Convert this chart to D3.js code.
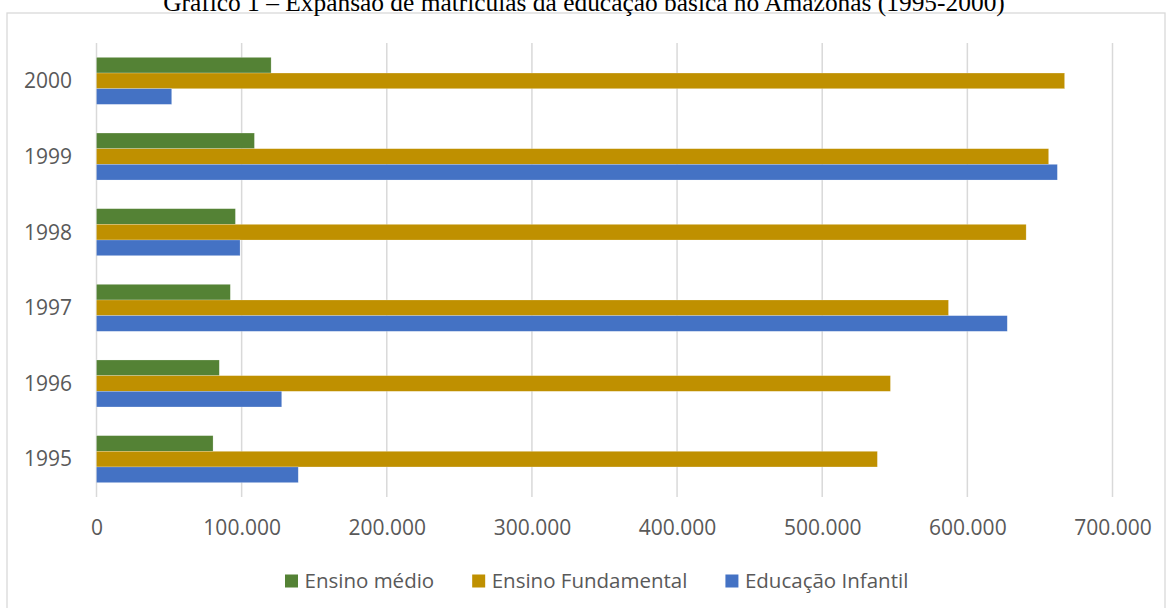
<!DOCTYPE html>
<html><head><meta charset="utf-8">
<script src="https://cdn.jsdelivr.net/npm/d3@7"></script>
<style>body{margin:0;background:#fff;} svg{display:block;}</style>
</head><body>
<svg id="c" width="1168" height="608"></svg>
<script>
const years = ["1995","1996","1997","1998","1999","2000"];
const seriesNames = ["Ensino médio","Ensino Fundamental","Educação Infantil"];
const ensinoMedio = [80300, 84600, 92200, 95700, 108800, 120300];
const ensinoFundamental = [538000, 547000, 587000, 640500, 656000, 667000];
const educacaoInfantil = [139000, 127600, 627500, 98900, 662000, 51800];
const xTicks = [0,100000,200000,300000,400000,500000,600000,700000];
const colors = ["#548235","#BF9000","#4472C4"];
const title = "Gráfico 1 – Expansão de matrículas da educação básica no Amazonas (1995-2000)";

const seriesData = [ensinoMedio, ensinoFundamental, educacaoInfantil];
const svg = d3.select("#c");
const font = "'Open Sans', sans-serif";

// chart border
svg.append("rect").attr("x",7).attr("y",13).attr("width",1158).attr("height",620)
  .attr("fill","#fff").attr("stroke","#d9d9d9").attr("stroke-width",1.3);

// title (clipped at top, as in the reference)
const t = svg.append("text").attr("x",584).attr("y",11).attr("text-anchor","middle")
  .attr("font-family","'Liberation Serif','Times New Roman',serif").attr("font-size",20)
  .attr("fill","#000").text(title);
const tw = t.node().getComputedTextLength();
t.attr("font-size", 20*842/tw);

const x = d3.scaleLinear().domain([0,700000]).range([96.5,1112.5]);
const y = d3.scaleBand().domain(years.slice().reverse()).range([43,497]).paddingInner(0.379).paddingOuter(0.19);
const yi = d3.scaleBand().domain(seriesNames).range([0,y.bandwidth()]);

// gridlines
svg.append("g").selectAll("line").data(xTicks).join("line")
  .attr("x1",d=>x(d)).attr("x2",d=>x(d)).attr("y1",43).attr("y2",497)
  .attr("stroke","#d9d9d9").attr("stroke-width",1.5);

// bars
seriesNames.forEach((s,i)=>{
  svg.append("g").selectAll("rect").data(years).join("rect")
    .attr("x",x(0)).attr("y",(d)=>y(d)+yi(s))
    .attr("width",(d,j)=>x(seriesData[i][j])-x(0)).attr("height",yi.bandwidth())
    .attr("fill",colors[i]).attr("stroke","rgba(255,255,255,0.35)").attr("stroke-width",0.6);
});

// x axis labels
const xAxis = d3.axisBottom(x).tickValues(xTicks).tickSize(0).tickPadding(0)
  .tickFormat(d=>d===0?"0":d3.format(",")(d).replace(/,/g,"."));
const gx = svg.append("g").attr("transform","translate(0,528)").call(xAxis);
gx.select(".domain").remove();
gx.selectAll("text").attr("font-family",font).attr("font-size",21).attr("fill","#595959").attr("dy","0.35em").attr("y",0);

// y axis labels
const yAxis = d3.axisLeft(y).tickSize(0).tickPadding(0);
const gy = svg.append("g").attr("transform","translate(72,0)").call(yAxis);
gy.select(".domain").remove();
gy.selectAll("text").attr("font-family",font).attr("font-size",21).attr("fill","#595959").attr("dy","0.35em");

// legend
let lx = 285;
const lg = svg.append("g");
seriesNames.forEach((s,i)=>{
  lg.append("rect").attr("x",lx).attr("y",574.5).attr("width",13).attr("height",13).attr("fill",colors[i]);
  const tt = lg.append("text").attr("x",lx+19.5).attr("y",581).attr("dy","0.35em")
    .attr("font-family",font).attr("font-size",20.5).attr("fill","#595959").text(s);
  lx += 19.5 + tt.node().getComputedTextLength() + 38;
});
</script>
</body></html>
